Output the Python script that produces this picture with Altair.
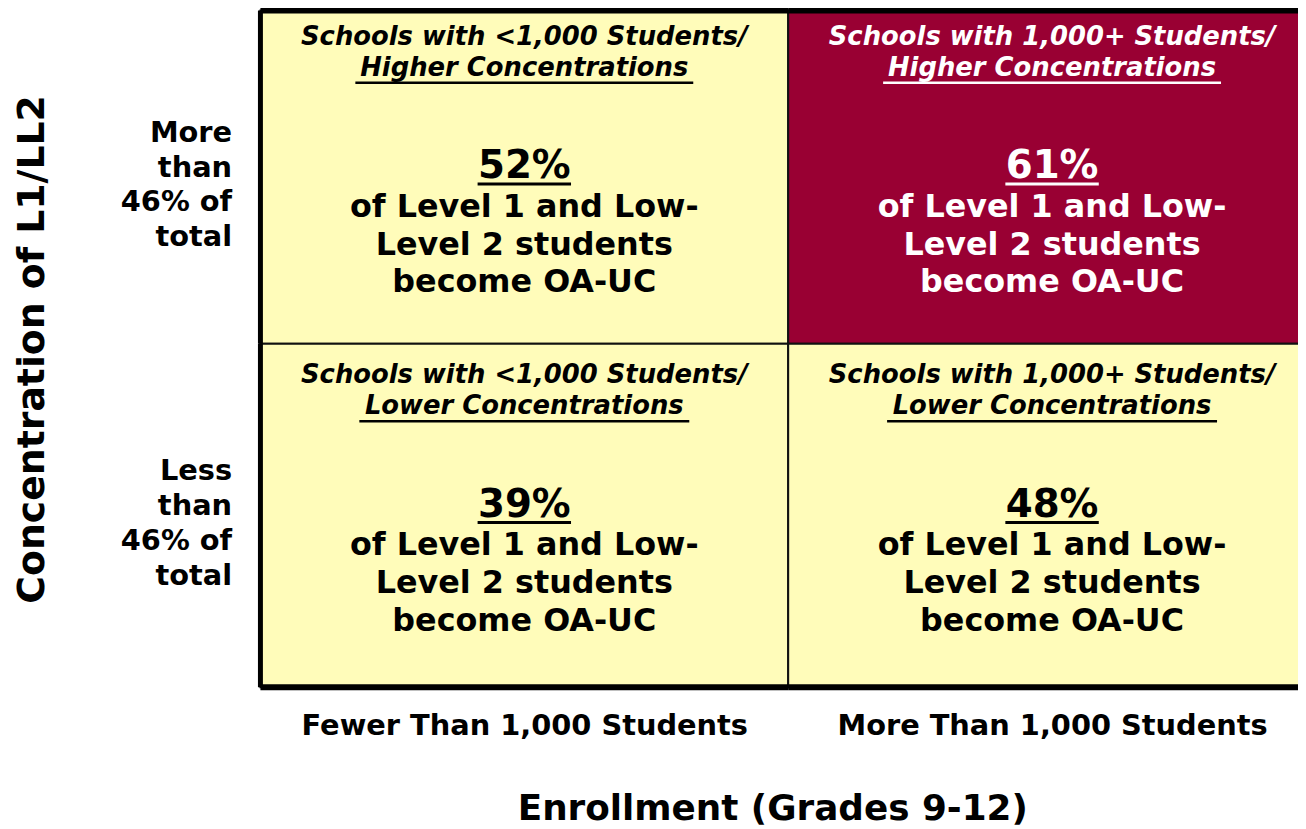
import altair as alt
import pandas as pd

# ---------------- data ----------------
col_labels = ["Fewer Than 1,000 Students", "More Than 1,000 Students"]
row_labels = [["More", "than", "46% of", "total"], ["Less", "than", "46% of", "total"]]  # top row, bottom row
x_title = "Enrollment (Grades 9-12)"
y_title = "Concentration of L1/LL2"

cell_col = [0, 1, 0, 1]
cell_row = [0, 0, 1, 1]  # 0 = top (higher concentration), 1 = bottom (lower)
header_line1 = ["Schools with <1,000 Students/", "Schools with 1,000+ Students/",
                "Schools with <1,000 Students/", "Schools with 1,000+ Students/"]
header_line2 = ["Higher Concentrations", "Higher Concentrations",
                "Lower Concentrations", "Lower Concentrations"]
pct_values = [52, 61, 39, 48]
body_text = "of Level 1 and Low-\nLevel 2 students\nbecome OA-UC"
highlight = [False, True, False, False]

# grid extent in chart units (columns 1 unit wide; top row slightly shorter as in the picture)
col_edges = [0.0, 1.0, 2.0]
row_edges = [(1.0, 1.97), (0.0, 1.0)]  # (bottom, top) for top row, bottom row
X_VISIBLE = 1.966  # right column runs off the page edge

# ---------------- style ----------------
YELLOW = "#FFFCBA"
CRIMSON = "#990033"
FONT = "DejaVu Sans"

df = pd.DataFrame({
    "col": cell_col,
    "row": cell_row,
    "header": [a + "\n" + b for a, b in zip(header_line1, header_line2)],
    "pct": [f"{v}%" for v in pct_values],
    "body": [body_text] * 4,
    "hl": highlight,
})
df["x0"] = [col_edges[c] for c in df["col"]]
df["x1"] = [col_edges[c + 1] for c in df["col"]]
df["y0"] = [row_edges[r][0] for r in df["row"]]
df["y1"] = [row_edges[r][1] for r in df["row"]]
df["cx"] = (df["x0"] + df["x1"]) / 2
df["cy"] = (df["y0"] + df["y1"]) / 2
df["fill"] = [CRIMSON if h else YELLOW for h in df["hl"]]
df["tc"] = ["white" if h else "black" for h in df["hl"]]

x_vals = [(col_edges[i] + col_edges[i + 1]) / 2 for i in range(len(col_labels))]
y_vals = [(b + t) / 2 for b, t in row_edges]

x_label_expr = "datum.value < 1 ? '%s' : '%s'" % (col_labels[0], col_labels[1])
y_label_expr = "datum.value > 1 ? split('%s', '|') : split('%s', '|')" % (
    "|".join(row_labels[0]), "|".join(row_labels[1]))

xs = alt.Scale(domain=[0, X_VISIBLE], nice=False, zero=False)
ys = alt.Scale(domain=[0, row_edges[0][1]], nice=False, zero=False)

x_axis = alt.Axis(values=x_vals, labelExpr=x_label_expr, title=x_title, grid=False, ticks=False,
                  domain=False, labelFont=FONT, labelFontWeight="bold", labelFontSize=29,
                  labelColor="black", labelPadding=24, labelFlush=False, labelOverlap=False,
                  labelBound=False, labelLimit=1000, titleFont=FONT, titleFontSize=36,
                  titleFontWeight="bold", titleColor="black", titleBaseline="alphabetic",
                  titleY=133, titleX=515, titleAlign="center", titleAnchor="start", titleLimit=2000)
y_axis = alt.Axis(values=y_vals, labelExpr=y_label_expr, title=y_title, grid=False, ticks=False,
                  domain=False, labelFont=FONT, labelFontWeight="bold", labelFontSize=29,
                  labelColor="black", labelPadding=29, labelAlign="right", labelBaseline="middle",
                  labelLineHeight=35, labelOffset=-45, labelFlush=False, labelOverlap=False,
                  labelBound=False, labelLimit=1000, titleFont=FONT, titleFontSize=38,
                  titleFontWeight="bold", titleColor="black", titleBaseline="alphabetic",
                  titleX=-218, titleAngle=270, titleLimit=2000)


def X(f):
    return alt.X(f"{f}:Q", scale=xs, axis=x_axis)


def Y(f):
    return alt.Y(f"{f}:Q", scale=ys, axis=y_axis)


base = alt.Chart(df)

cells = base.mark_rect(stroke="#111111", strokeWidth=2).encode(
    x=X("x0"), x2="x1:Q", y=Y("y0"), y2="y1:Q",
    color=alt.Color("fill:N", scale=None),
)

left_border = base.transform_filter("datum.col == 0").mark_rule(color="black", strokeWidth=5).encode(
    x=X("x0"), y=Y("y0"), y2="y1:Q")
top_border = base.transform_filter("datum.row == 0").mark_rule(color="black", strokeWidth=6).encode(
    x=X("x0"), x2="x1:Q", y=Y("y1"))
bottom_border = base.transform_filter("datum.row == 1").mark_rule(color="black", strokeWidth=6).encode(
    x=X("x0"), x2="x1:Q", y=Y("y0"))


def txt(field, size, dy, lh, italic=False):
    return base.mark_text(font=FONT, fontWeight="bold", fontStyle="italic" if italic else "normal",
                          fontSize=size, dy=dy, lineHeight=lh, lineBreak="\n", align="center",
                          baseline="alphabetic").encode(
        x=X("cx"), y=Y("cy"),
        text=f"{field}:N",
        color=alt.Color("tc:N", scale=None),
    )


def underline(filter_expr, half, yoff, sw):
    return base.transform_filter(filter_expr).mark_rule(
        strokeWidth=sw, xOffset=-half, x2Offset=half, yOffset=yoff, y2Offset=yoff).encode(
        x=X("cx"), x2="cx:Q", y=Y("cy"), y2="cy:Q",
        color=alt.Color("tc:N", scale=None),
    )


header = txt("header", 26, -133, 31, italic=True)
pct = txt("pct", 39, 1, 39)
body = txt("body", 32, 40, 38)

ul_high = underline("datum.row == 0", 170, -95, 2.5)
ul_low = underline("datum.row == 1", 166, -95, 2.5)
ul_pct = underline("true", 47, 7, 3)

chart = alt.layer(cells, header, ul_high, ul_low, pct, ul_pct, body,
                  left_border, top_border, bottom_border).properties(
    width=1044, height=681,
    autosize=alt.AutoSizeParams(type="none"),
    padding={"left": 254, "top": 0, "right": 0, "bottom": 139},
    background="white",
).configure_view(stroke=None)

chart.save("out.html", embed_options={"renderer": "svg", "actions": False})
